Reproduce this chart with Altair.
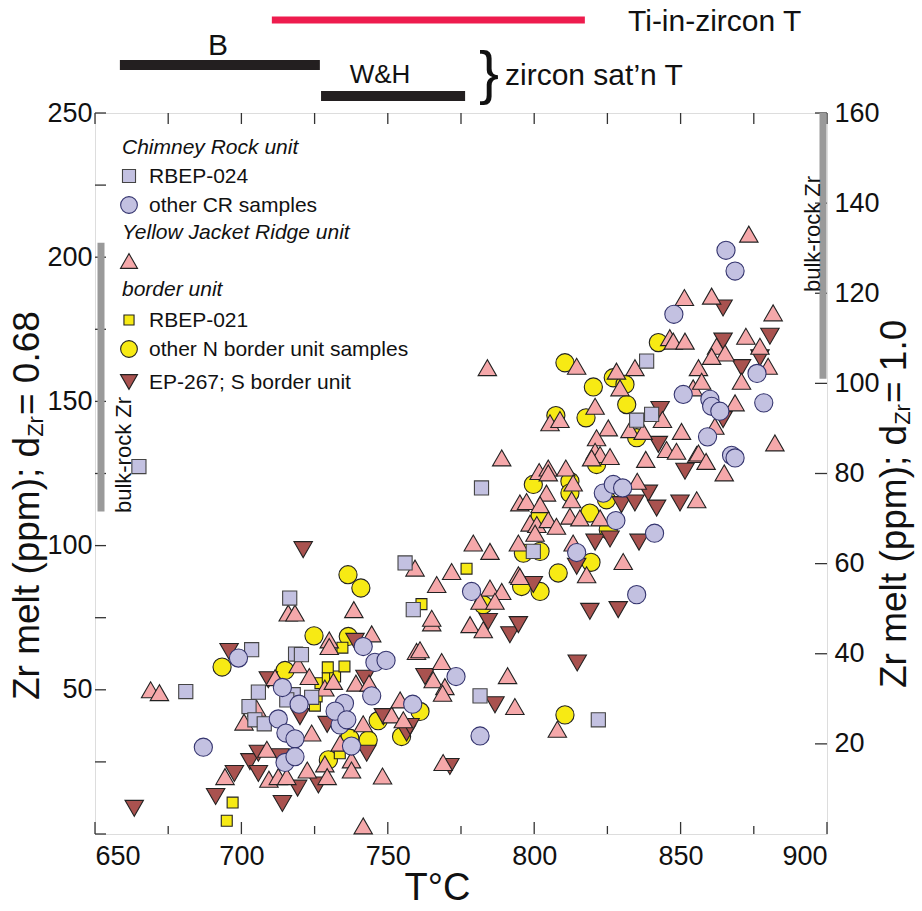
import altair as alt
import pandas as pd

# ---- Zr-in-melt vs temperature, by unit -------------------------------
# Chimney Rock unit: RBEP-024 (squares)
rbep024_T = [665, 681, 703.5, 716.5, 718.5, 720.5, 705.8, 717.7, 715.5, 724, 702.6, 704.6,
             707.8, 755.9, 758.7, 781.5, 782, 799.7, 821.9, 835, 840.1, 838.4]
rbep024_Zr = [127.4, 49.4, 63.9, 81.8, 62.4, 62.2, 49.2, 48.3, 46.5, 47.4, 44.2, 39.6,
              38.2, 94, 77.8, 47.9, 120, 98, 39.6, 143.5, 145.5, 164]

# Chimney Rock unit: other samples (circles)
cr_T = [687, 699, 714, 712.6, 715.2, 718.3, 714.9, 718.3, 719.7, 735.2, 733.7, 732,
        741.6, 745.6, 749.4, 744.5, 736, 737.6, 758.5, 773.3, 778.6, 781.5, 814.5, 835,
        823.6, 827, 830.2, 827.9, 841.1, 850.9, 860, 860.6, 863.4, 859.2, 867.4, 868.6,
        876.1, 878.4, 847.7, 865.5, 868.6]
cr_Zr = [30.1, 61, 50.8, 39.9, 35, 33, 24.8, 26.8, 45, 45.3, 37.8, 42.6,
         65, 59.5, 60.2, 47.9, 39.6, 30.5, 45, 54.6, 84.1, 34, 97.6, 83,
         118.2, 121.2, 120, 108.7, 104.3, 152.4, 150.7, 148.3, 146.6, 137.7, 131.3, 130.4,
         159.7, 149.5, 180.2, 202.4, 195.2]

# Yellow Jacket Ridge unit (triangles)
yjr_T = [669, 672, 716, 718.3, 730, 730, 719.4, 723.2, 711.5, 705.2, 700.9, 724,
         708.7, 694.4, 709.4, 712.6, 715.5, 722.5, 728.5, 729.3, 733.7, 744.5, 759.8, 761,
         768.4, 765.5, 769.5, 768.7, 728.5, 731.4, 739.1, 743.6, 741.6, 751.3, 754.2, 755.3,
         737.6, 737.6, 748.2, 768.9, 765, 759.3, 771.8, 766.7, 784.9, 788.9, 781.5, 786.6,
         738.4, 765, 778.1, 782.6, 779.2, 784.9, 794.6, 794.6, 790.9, 793.4, 741.6, 807.9,
         813.3, 817.9, 830.4, 795.1, 784, 814.5, 846.3, 847.5, 834.4, 828.1, 829.3, 820.8,
         805.4, 808.8, 843.8, 832.7, 837.2, 825.3, 821.3, 845.2, 848.6, 820.8, 822.5, 819.6,
         825.9, 838.1, 788.9, 801.7, 804.8, 804.8, 810.8, 804.2, 813.3, 812.8, 835.2, 795.1,
         797.4, 802, 798.6, 800.9, 804.8, 807.6, 812.2, 815.6, 822.5, 800.3, 854.3, 850.3,
         855.5, 855.5, 873.3, 851.3, 860.6, 881.6, 851.5, 862.3, 865.2, 860.6, 872.3, 877.1,
         879.9, 870.8, 856.1, 857.2, 868.6, 861.7, 856.1, 858.7, 864.9, 882.2]
yjr_Zr = [50, 49, 76.6, 76.6, 67.3, 65, 58.7, 54.6, 54.2, 43.6, 38.8, 35,
          29.4, 19.9, 19, 19.9, 19.9, 22.2, 24.3, 19.9, 31.5, 69.4, 63.3, 63.9,
          59.8, 53.5, 51.1, 48.8, 50.6, 52.9, 52.3, 52.3, 38.2, 41.3, 46.5, 39.6,
          25.7, 22.2, 20.1, 24.8, 73.2, 92.2, 91, 86.5, 85.3, 84.1, 80.7, 80.7,
          77.8, 74.8, 72.6, 70.8, 100.9, 98, 100.9, 89.9, 54.9, 44.2, 2.8, 36.3,
          100.9, 89.9, 94.5, 89.3, 161.7, 162.2, 172.1, 170.9, 161.7, 160.5, 154.7, 148.3,
          142.6, 143.7, 143.7, 140.2, 139.6, 140.8, 137.4, 133.3, 132.7, 132.7, 131.6, 130.4,
          130.9, 129.9, 130.4, 125.7, 126.9, 125.2, 126.9, 118.2, 121.7, 115.9, 122.3, 114.8,
          115.3, 114.2, 107.8, 107.3, 109, 106.7, 110.2, 109.6, 109.6, 104.3, 154.7, 139.6,
          131.6, 115.9, 208, 186, 186.5, 180.7, 170.9, 169.1, 166.8, 165.6, 172.6, 169.1,
          162.2, 157, 161.7, 157, 149.5, 141.4, 132.1, 129.2, 125.2, 135.6]

# border unit: RBEP-021 (small squares)
rbep021_T = [695, 697, 725.1, 725.7, 727, 729.5, 732, 729.5, 735.2, 734.5, 733.6, 761.5, 776.9]
rbep021_Zr = [4.6, 10.9, 44.5, 47.7, 52.3, 54, 54.6, 57.8, 58.1, 64.6, 28, 79.7, 92]

# border unit: other N samples (circles)
nb_T = [693.4, 714.9, 724.8, 729.7, 736.4, 740.8, 736.5, 746.7, 761, 754.7, 743.3, 737,
        782.6, 796.3, 802, 795.7, 802, 808.2, 819.4, 810.5, 810.5, 842.4, 827, 831,
        820.2, 831.6, 807.4, 817.7, 835, 821.3, 799.7, 812.2, 812.2, 824.7, 802, 819, 825.3]
nb_Zr = [57.9, 56.7, 68.7, 25.7, 89.9, 85.3, 68.5, 39.3, 42.5, 33.8, 32.6, 33.2,
         79.5, 97.4, 98, 85.8, 84.1, 90.5, 94.2, 41.3, 163.4, 170.4, 158.2, 155.9,
         155, 148.9, 145.1, 144.3, 137.4, 128.1, 121.2, 122.3, 118.2, 115.9, 110.2, 111.3, 105.5]

# border unit: EP-267, S border (inverted triangles)
ep267_T = [663.4, 691.2, 695.8, 697.6, 702.9, 705.8, 705.8, 709.2, 713.2, 714, 719.2, 720,
           721.1, 726.3, 729.3, 738.8, 742.2, 742.8, 748.5, 756.4, 757.6, 762.7, 771.2, 784.3,
           786.6, 791.7, 794.6, 799.7, 814.5, 814.7, 819, 820.8, 825.9, 828.7, 835.8, 829.8,
           834.4, 839, 841.8, 849.8, 843, 842.4, 851.5, 864.5, 864.5, 864.5, 870.8, 877.1, 880.5]
ep267_Zr = [8.9, 13, 63.3, 21, 25.1, 21, 28, 53.5, 26.8, 10.6, 15.9, 40.7,
            98.6, 17, 38, 66.8, 54, 28, 40.7, 35, 37.3, 54.6, 23.4, 73.7,
            44.8, 69.1, 72.6, 86.5, 92.8, 59.3, 77.2, 101.2, 102.3, 77.8, 101.2, 114.2,
            114.8, 118.2, 113, 114.8, 147.2, 135.1, 125.8, 143.7, 170.9, 182.4, 161.7, 165.1, 172.6]

# bulk-rock Zr ranges (left axis, dZr = 0.68; right axis, dZr = 1.0)
bulk_left = [111.8, 205]
bulk_right = [101, 160]

# temperature estimates drawn above the plot
ti_zircon_T = [710.4, 817.3]
sat_B_T = [658.5, 726.8]
sat_WH_T = [727.2, 776.4]

# axis ticks
x_labels = [650, 700, 750, 800, 850, 900]
x_minor = [675, 725, 775, 825, 875]
y_left_labels = [50, 100, 150, 200, 250]
y_left_ticks = [0, 25, 50, 75, 100, 125, 150, 175, 200, 225, 250]
y_right_labels = [20, 40, 60, 80, 100, 120, 140, 160]

W, H = 732, 721
FONT = "Liberation Sans"

groups = [
    ("other N border unit samples", nb_T, nb_Zr, "circle", "#f7ea14", "#222222", 330),
    ("RBEP-021", rbep021_T, rbep021_Zr, "square", "#f7ea14", "#222222", 120),
    ("EP-267; S border unit", ep267_T, ep267_Zr, "triangle-down", "#a9524f", "#222222", 340),
    ("Yellow Jacket Ridge unit", yjr_T, yjr_Zr, "triangle-up", "#f5a8aa", "#222222", 340),
    ("RBEP-024", rbep024_T, rbep024_Zr, "square", "#c3c1e1", "#444444", 200),
    ("other CR samples", cr_T, cr_Zr, "circle", "#c3c1e1", "#34346e", 330),
]

xs = alt.Scale(domain=[650, 900], nice=False, zero=False)
ys = alt.Scale(domain=[0, 250], nice=False, zero=True)
ys_r = alt.Scale(domain=[0, 160], nice=False, zero=True)

x_axis = alt.Axis(values=x_labels, ticks=False, domain=False, grid=False,
                  labelFontSize=27, labelFont=FONT, labelColor="#111", labelPadding=9,
                  title="T°C", titleFont=FONT, titleFontSize=38, titleFontWeight="normal",
                  titleColor="#111", titlePadding=0, titleX=342)
y_axis = alt.Axis(values=y_left_labels, ticks=False, domain=False, grid=False,
                  labelFontSize=27, labelFont=FONT, labelColor="#111", labelPadding=3,
                  title=None)
y_axis_r = alt.Axis(values=y_right_labels, ticks=False, domain=False, grid=False, orient="right",
                    labelFontSize=27, labelFont=FONT, labelColor="#111", labelPadding=7,
                    title=None)


def X(field):
    return alt.X(field, type="quantitative", scale=xs, axis=x_axis)


def Y(field):
    return alt.Y(field, type="quantitative", scale=ys, axis=y_axis)


def YR(field):
    return alt.Y(field, type="quantitative", scale=ys_r, axis=y_axis_r)


layers = []
for name, T, Zr, shape, fill, stroke, size in groups:
    df = pd.DataFrame({"T": T, "Zr": Zr})
    layers.append(
        alt.Chart(df).mark_point(shape=shape, filled=True, fill=fill, stroke=stroke,
                                 strokeWidth=1.1, size=size, opacity=1)
        .encode(x=X("T"), y=Y("Zr"))
    )

# inward ticks on left, top and bottom edges
lt = alt.Chart(pd.DataFrame({"v": y_left_ticks})).mark_rule(color="#333", strokeWidth=1.3).encode(
    y=Y("v"), x=alt.value(0), x2=alt.value(11))
bt_major = alt.Chart(pd.DataFrame({"v": x_labels})).mark_rule(color="#333", strokeWidth=1.3).encode(
    x=X("v"), y=alt.value(H), y2=alt.value(H - 12))
bt_minor = alt.Chart(pd.DataFrame({"v": x_minor})).mark_rule(color="#333", strokeWidth=1.3).encode(
    x=X("v"), y=alt.value(H), y2=alt.value(H - 8))
tt = alt.Chart(pd.DataFrame({"v": x_labels + x_minor})).mark_rule(color="#333", strokeWidth=1.3).encode(
    x=X("v"), y=alt.value(0), y2=alt.value(11))

# bulk-rock Zr bar, left axis units
bulk_l = alt.Chart(pd.DataFrame({"a": [bulk_left[0]], "b": [bulk_left[1]]})).mark_rule(
    color="#9a9a9a", strokeWidth=7).encode(y=Y("a"), y2="b:Q", x=alt.value(6))


def label(text, x, y, size, align="left", style="normal", angle=0, baseline="middle", weight="normal"):
    kw = dict(font=FONT, fontSize=size, color="#111", align=align, baseline=baseline,
              fontStyle=style, fontWeight=weight)
    if angle:
        kw["angle"] = angle
    return alt.Chart(pd.DataFrame({"t": [text]})).mark_text(**kw).encode(
        text="t:N", x=alt.value(x), y=alt.value(y))


bulk_l_txt = label("bulk-rock Zr", 29, 342, 22, align="center", angle=270)


# temperature ranges above the plot
def range_bar(r, ypx, color, width):
    return alt.Chart(pd.DataFrame({"a": [r[0]], "b": [r[1]]})).mark_rule(
        color=color, strokeWidth=width).encode(x=X("a"), x2="b:Q", y=alt.value(ypx))


bars = [range_bar(ti_zircon_T, -93, "#ee1c4e", 7),
        range_bar(sat_B_T, -48, "#231f20", 10),
        range_bar(sat_WH_T, -17, "#231f20", 10)]

top_text = [
    label("Ti-in-zircon T", 533, -91, 30),
    label("B", 123, -67, 30, align="center"),
    label("W&H", 285, -38, 26, align="center"),
    label("}", 394, -38, 60, align="center", weight="lighter"),
    label("zircon sat\u2019n T", 410, -37, 30),
]

# axis titles with a subscript: pieces laid end to end along the rotated baseline
TS, SS = 37, 22
EM_MAIN, EM_SUB = 7.112, 0.944   # em widths of "Zr melt (ppm); d" and "Zr"


def rotated_title(x, y_start, tail):
    y2 = y_start - EM_MAIN * TS
    y3 = y2 - EM_SUB * SS - 1
    return [label("Zr melt (ppm); d", x, y_start, TS, angle=270),
            label("Zr", x + 8, y2, SS, angle=270),
            label(tail, x, y3, TS, angle=270)]


left_title = rotated_title(-67, 587, " = 0.68")

# legend
legend_items = [
    ("head", "Chimney Rock unit", None),
    ("mark", "RBEP-024", 4),
    ("mark", "other CR samples", 5),
    ("head", "Yellow Jacket Ridge unit", None),
    ("mark", "", 3),
    ("head", "border unit", None),
    ("mark", "RBEP-021", 1),
    ("mark", "other N border unit samples", 0),
    ("mark", "EP-267; S border unit", 2),
]
legend_y = [35, 63, 92, 120, 148, 177, 207, 236, 269]
legend_layers = []
for (kind, text, gi), ly in zip(legend_items, legend_y):
    if kind == "head":
        legend_layers.append(label(text, 27, ly, 21, style="italic"))
    else:
        _, _, _, shape, fill, stroke, size = groups[gi]
        legend_layers.append(
            alt.Chart(pd.DataFrame({"k": [0]})).mark_point(
                shape=shape, filled=True, fill=fill, stroke=stroke, strokeWidth=1.1,
                size=size * 0.85, opacity=1).encode(x=alt.value(34), y=alt.value(ly)))
        if text:
            legend_layers.append(label(text, 54, ly + 1, 21))

left_group = alt.layer(*layers, lt, bt_major, bt_minor, tt, bulk_l, bulk_l_txt,
                       *bars, *top_text, *left_title, *legend_layers)

# right axis: dZr = 1.0
rt = alt.Chart(pd.DataFrame({"v": y_right_labels})).mark_rule(color="#333", strokeWidth=1.3).encode(
    y=YR("v"), x=alt.value(W - 12), x2=alt.value(W))
bulk_r = alt.Chart(pd.DataFrame({"a": [bulk_right[0]], "b": [bulk_right[1]]})).mark_rule(
    color="#9a9a9a", strokeWidth=7).encode(y=YR("a"), y2="b:Q", x=alt.value(W - 4))
bulk_r_txt = label("bulk-rock Zr", 718, 121, 22, align="center", angle=270)
right_title = rotated_title(800, 575, " = 1.0")
right_group = alt.layer(rt, bulk_r, bulk_r_txt, *right_title)

chart = alt.layer(left_group, right_group).resolve_scale(y="independent").properties(
    width=W, height=H,
    autosize=alt.AutoSizeParams(type="none"),
    padding={"left": 95, "top": 113, "right": 95, "bottom": 77},
).configure_view(stroke="#333", strokeWidth=1.5).configure(background="white")

chart.save("out.html", embed_options={"renderer": "svg", "actions": False})
